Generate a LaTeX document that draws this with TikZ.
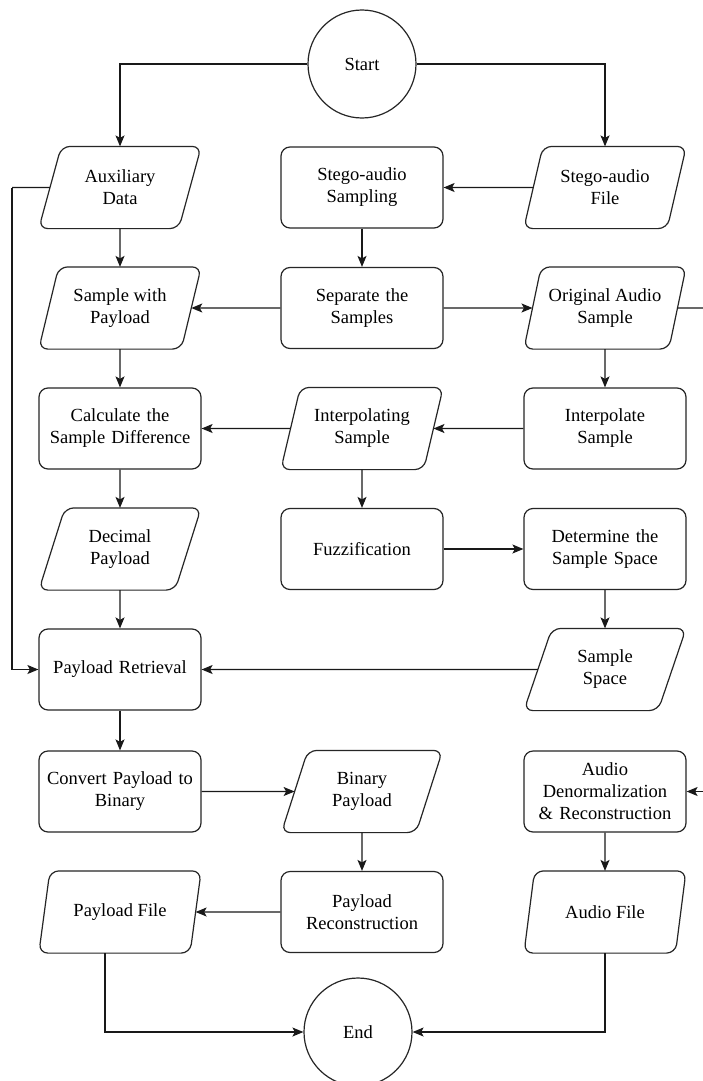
\documentclass[tikz,border=0pt]{standalone}
\usepackage{fontspec}
\setmainfont{Liberation Serif}
\newfontfamily\diagfont{Liberation Serif}
\usetikzlibrary{shapes.geometric,arrows.meta}
\begin{document}
\begin{tikzpicture}[x=1pt,y=-1pt,
  base/.style={line width=1.2pt,align=center,font=\diagfont\fontsize{18.5}{22}\selectfont,inner sep=2pt,text=black},
  procbox/.style={base,draw=black!85,rectangle,rounded corners=9pt,minimum width=161pt,minimum height=81pt,text width=158pt},
  databox/.style={base,trapezium,trapezium left angle=70,trapezium right angle=110,trapezium stretches=true,minimum width=161pt,minimum height=81pt},
  dataline/.style={draw=black!85,line width=1.2pt,rounded corners=9pt},
  termbox/.style={base,draw=black!85,circle,minimum size=108pt},
  arr/.style={draw=black!90,-{Stealth[length=11pt,width=9pt,inset=2.5pt]},line width=1.2pt},
  lin/.style={draw=black!90,line width=1.2pt}]
\useasboundingbox (0,0) rectangle (703,1081);
\fill[white] (0,0) rectangle (703,1081);
% rows
\def\ra{187.5}\def\rb{308}\def\rc{428.5}\def\rd{549}\def\re{669.5}\def\rf{791.5}\def\rg{912}
\node[termbox] (start) at (362,64) {Start};
\node[databox] (aux) at (120,\ra) {Auxiliary\\Data};
\node[procbox] (ssamp) at (362,\ra) {Stego-audio\\Sampling};
\node[databox] (sfile) at (605,\ra) {Stego-audio\\File};
\node[databox] (swp) at (120,\rb) {Sample with\\Payload};
\node[procbox] (sep) at (362,\rb) {Separate the\\Samples};
\node[databox] (orig) at (605,\rb) {Original Audio\\Sample};
\node[procbox] (calc) at (120,\rc) {Calculate the\\Sample Difference};
\node[databox] (interp) at (362,\rc) {Interpolating\\Sample};
\node[procbox] (ipol) at (605,\rc) {Interpolate\\Sample};
\node[databox] (dec) at (120,\rd) {Decimal\\Payload};
\node[procbox] (fuzz) at (362,\rd) {Fuzzification};
\node[procbox] (det) at (605,\rd) {Determine the\\Sample Space};
\node[procbox] (ret) at (120,\re) {Payload Retrieval};
\node[databox] (sspace) at (605,\re) {Sample\\Space};
\node[procbox] (conv) at (120,\rf) {Convert Payload to\\Binary};
\node[databox] (bin) at (362,\rf) {Binary\\Payload};
\node[procbox] (denorm) at (605,\rf) {Audio\\Denormalization\\\& Reconstruction};
\node[databox] (pfile) at (120,\rg) {Payload File};
\node[procbox] (prec) at (362,\rg) {Payload\\Reconstruction};
\node[databox] (afile) at (605,\rg) {Audio File};
\node[termbox] (end) at (358,1032) {End};
% parallelogram outlines with rounded corners
\foreach \n in {aux,sfile,swp,orig,interp,dec,sspace,bin,pfile,afile}{
  \draw[dataline] (\n.bottom side) -- (\n.bottom right corner) -- (\n.top right corner)
    -- (\n.top left corner) -- (\n.bottom left corner) -- (\n.bottom side);
}
% helper coordinates
\coordinate (lbus) at (12,\ra);
\coordinate (rbus) at (712,\rb);
\coordinate (pfout) at (105,\rg);
% connectors
\draw[arr] (start.west) -| (aux.north);
\draw[arr] (start.east) -| (sfile.north);
\draw[arr] (sfile) -- (ssamp);
\draw[arr] (ssamp) -- (sep);
\draw[arr] (aux) -- (swp);
\draw[arr] (sep) -- (swp);
\draw[arr] (sep) -- (orig);
\draw[lin] (orig) -- (rbus);
\draw[arr] (rbus) |- (denorm.east);
\draw[arr] (swp) -- (calc);
\draw[arr] (orig) -- (ipol);
\draw[arr] (ipol) -- (interp);
\draw[arr] (interp) -- (calc);
\draw[arr] (interp) -- (fuzz);
\draw[arr] (calc) -- (dec);
\draw[arr] (fuzz) -- (det);
\draw[arr] (det) -- (sspace);
\draw[arr] (dec) -- (ret);
\draw[arr] (sspace) -- (ret);
\draw[lin] (aux) -- (lbus);
\draw[arr] (lbus) |- (ret.west);
\draw[arr] (ret) -- (conv);
\draw[arr] (conv) -- (bin);
\draw[arr] (bin) -- (prec);
\draw[arr] (prec) -- (pfile);
\draw[arr] (denorm) -- (afile);
\draw[arr] (pfile.south -| pfout) |- (end.west);
\draw[arr] (afile.south) |- (end.east);
\end{tikzpicture}
\end{document}
